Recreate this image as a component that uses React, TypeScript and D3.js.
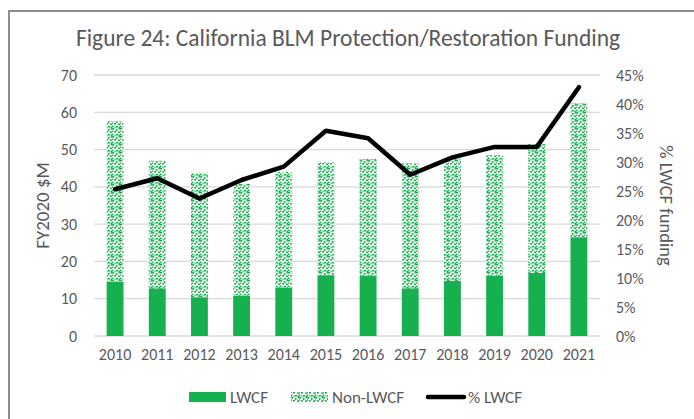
import * as d3 from 'd3';
import { useEffect, useRef } from 'react';

const years = ['2010', '2011', '2012', '2013', '2014', '2015', '2016', '2017', '2018', '2019', '2020', '2021'];
const lwcf = [14.6, 12.8, 10.4, 10.8, 13.0, 16.3, 16.1, 12.8, 14.8, 16.1, 16.9, 26.5];
const nonLwcf = [43.0, 34.2, 33.4, 30.0, 31.0, 30.3, 31.4, 33.5, 32.8, 32.4, 34.6, 35.9];
const pctLwcf = [0.253, 0.272, 0.237, 0.269, 0.292, 0.354, 0.341, 0.278, 0.308, 0.326, 0.326, 0.429];
const leftTicks = [0, 10, 20, 30, 40, 50, 60, 70];
const rightTicks = [0, 0.05, 0.1, 0.15, 0.2, 0.25, 0.3, 0.35, 0.4, 0.45];
const legendItems = ['LWCF', 'Non-LWCF', '% LWCF'];

const WIDTH = 694;
const HEIGHT = 419;
const GREEN = '#17b04f';
const TEXT = '#595959';
const FONT = 'Carlito, Lato, sans-serif';

const App = () => {
  const svgRef = useRef<SVGSVGElement>(null);

  useEffect(() => {
    const svg = d3.select(svgRef.current);
    svg.selectAll('*').remove();

    const plotLeft = 94;
    const plotRight = 600;
    const plotTop = 75;
    const plotBottom = 336;

    // confetti pattern for non-LWCF
    const defs = svg.append('defs');
    const pat = defs
      .append('pattern')
      .attr('id', 'confetti')
      .attr('patternUnits', 'userSpaceOnUse')
      .attr('width', 8)
      .attr('height', 8);
    pat.append('rect').attr('width', 8).attr('height', 8).attr('fill', '#fff');
    const dots = [
      [0, 0, 2, 1.5], [4, 1, 1.5, 2], [2, 3, 2, 1.5], [6, 3.5, 2, 1.5],
      [0, 5.5, 1.5, 2], [4, 6, 2, 1.5], [6.5, 0, 1.5, 1.5], [2.5, 0.5, 1, 1],
      [0, 2.5, 1, 1.5], [6.5, 6.5, 1.5, 1.5], [2.5, 6.5, 1, 1.5],
    ];
    dots.forEach(([x, y, w, h]) => {
      pat.append('rect').attr('x', x).attr('y', y).attr('width', w).attr('height', h).attr('fill', GREEN);
    });

    svg.append('rect').attr('width', WIDTH).attr('height', HEIGHT).attr('fill', '#fff');

    // frame
    svg
      .append('path')
      .attr('d', `M 9 ${HEIGHT} V 11 H ${WIDTH}`)
      .attr('fill', 'none')
      .attr('stroke', '#8c8c8c')
      .attr('stroke-width', 2);

    const x = d3.scaleBand(years, [plotLeft, plotRight]).paddingInner(0.6).paddingOuter(0.3);
    const y = d3.scaleLinear([0, 70], [plotBottom, plotTop]);
    const yPct = d3.scaleLinear([0, 0.45], [plotBottom, plotTop]);

    // title
    svg
      .append('text')
      .attr('x', 348)
      .attr('y', 46)
      .attr('text-anchor', 'middle')
      .attr('font-family', FONT)
      .attr('font-size', 23.5)
      .attr('fill', TEXT)
      .text('Figure 24: California BLM Protection/Restoration Funding');

    // gridlines
    svg
      .append('g')
      .selectAll('line')
      .data(leftTicks)
      .join('line')
      .attr('x1', plotLeft)
      .attr('x2', plotRight)
      .attr('y1', (d) => y(d))
      .attr('y2', (d) => y(d))
      .attr('stroke', '#d9d9d9')
      .attr('stroke-width', 1.3);

    const styleTicks = (g) => {
      g.select('.domain').remove();
      g.selectAll('.tick text')
        .attr('font-family', FONT)
        .attr('font-size', 16)
        .attr('fill', TEXT);
    };

    // left axis
    svg
      .append('g')
      .attr('transform', `translate(${plotLeft - 8},0)`)
      .call(d3.axisLeft(y).tickValues(leftTicks).tickSize(0).tickPadding(9))
      .call(styleTicks);

    // right axis
    svg
      .append('g')
      .attr('transform', `translate(${plotRight + 7},0)`)
      .call(d3.axisRight(yPct).tickValues(rightTicks).tickSize(0).tickPadding(9).tickFormat(d3.format('.0%')))
      .call(styleTicks);

    // x axis
    svg
      .append('g')
      .attr('transform', `translate(0,${plotBottom})`)
      .call(d3.axisBottom(x).tickSize(0).tickPadding(13))
      .call(styleTicks);

    // axis titles
    svg
      .append('text')
      .attr('transform', `translate(49,${(plotTop + plotBottom) / 2}) rotate(-90)`)
      .attr('text-anchor', 'middle')
      .attr('font-family', FONT)
      .attr('font-size', 19)
      .attr('fill', TEXT)
      .text('FY2020 $M');
    svg
      .append('text')
      .attr('transform', `translate(660,${(plotTop + plotBottom) / 2}) rotate(90)`)
      .attr('text-anchor', 'middle')
      .attr('font-family', FONT)
      .attr('font-size', 18.5)
      .attr('fill', TEXT)
      .text('% LWCF funding');

    // bars
    const bw = x.bandwidth();
    svg
      .append('g')
      .selectAll('rect')
      .data(years)
      .join('rect')
      .attr('x', (d) => x(d)!)
      .attr('width', bw)
      .attr('y', (_, i) => y(lwcf[i]))
      .attr('height', (_, i) => y(0) - y(lwcf[i]))
      .attr('fill', GREEN);
    svg
      .append('g')
      .selectAll('rect')
      .data(years)
      .join('rect')
      .attr('x', (d) => x(d)!)
      .attr('width', bw)
      .attr('y', (_, i) => y(lwcf[i] + nonLwcf[i]))
      .attr('height', (_, i) => y(lwcf[i]) - y(lwcf[i] + nonLwcf[i]))
      .attr('fill', 'url(#confetti)');

    // % line
    const line = d3
      .line<number>()
      .x((_, i) => x(years[i])! + bw / 2)
      .y((d) => yPct(d));
    svg
      .append('path')
      .attr('d', line(pctLwcf))
      .attr('fill', 'none')
      .attr('stroke', '#000')
      .attr('stroke-width', 4.5)
      .attr('stroke-linecap', 'round')
      .attr('stroke-linejoin', 'round');

    // legend
    const legendX = [189, 291, 426];
    const legendY = 397;
    const lg = svg
      .append('g')
      .selectAll('g')
      .data(legendItems)
      .join('g')
      .attr('transform', (_, i) => `translate(${legendX[i]},${legendY})`);
    lg.each(function (d, i) {
      const g = d3.select(this);
      if (i === 0) {
        g.append('rect').attr('x', 0).attr('y', -5).attr('width', 37).attr('height', 10).attr('fill', GREEN);
      } else if (i === 1) {
        g.append('rect').attr('x', 0).attr('y', -5).attr('width', 37).attr('height', 10).attr('fill', 'url(#confetti)');
      } else {
        g.append('line')
          .attr('x1', 2)
          .attr('x2', 38)
          .attr('y1', 0)
          .attr('y2', 0)
          .attr('stroke', '#000')
          .attr('stroke-width', 4.5)
          .attr('stroke-linecap', 'round');
      }
      g.append('text')
        .attr('x', i === 2 ? 42 : 41)
        .attr('y', 6)
        .attr('font-family', FONT)
        .attr('font-size', 17)
        .attr('fill', TEXT)
        .text(d);
    });
  }, []);

  return (
    <svg
      ref={svgRef}
      width={WIDTH}
      height={HEIGHT}
      viewBox={`0 0 ${WIDTH} ${HEIGHT}`}
      style={{ position: 'fixed', left: 0, top: 0, display: 'block' }}
    />
  );
};

export default App;
